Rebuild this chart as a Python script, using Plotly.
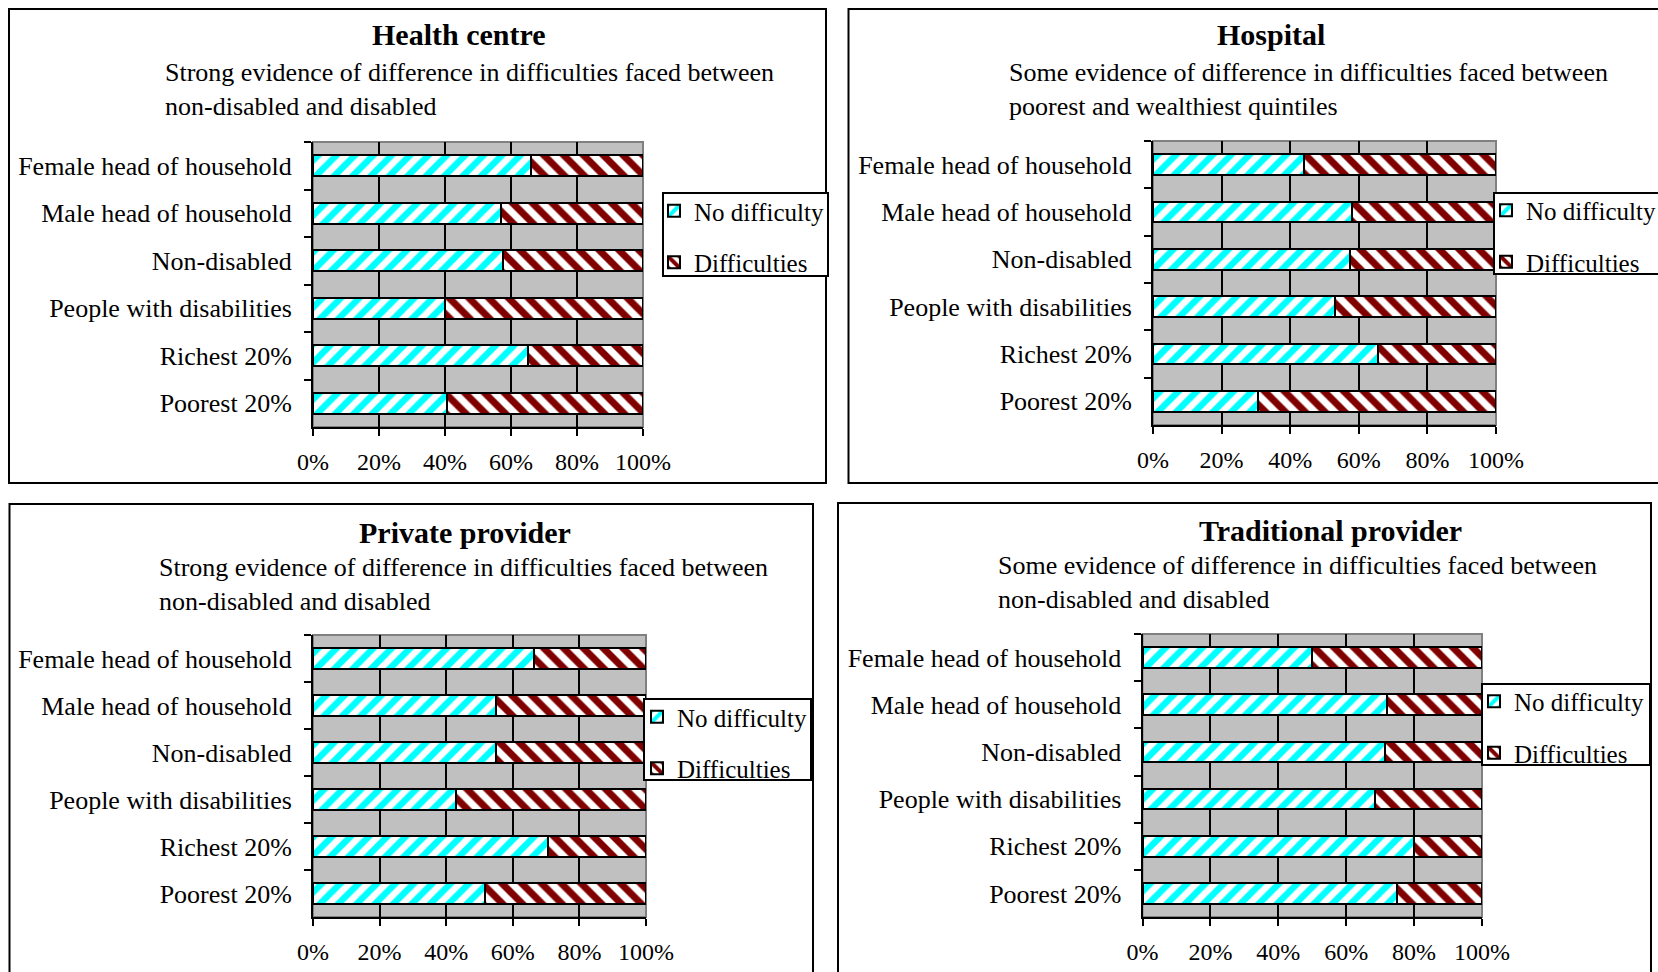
import plotly.graph_objects as go

W, H = 1658, 972
FONT = "Liberation Serif, Times New Roman, serif"

categories = ["Female head of household", "Male head of household", "Non-disabled",
              "People with disabilities", "Richest 20%", "Poorest 20%"]
x_tick_vals = [0, 20, 40, 60, 80, 100]
x_tick_text = ["0%", "20%", "40%", "60%", "80%", "100%"]
series_names = ["No difficulty", "Difficulties"]

health_no = [66, 57, 57.5, 40, 65, 40.5]
health_diff = [34, 43, 42.5, 60, 35, 59.5]
hospital_no = [44, 58, 57.5, 53, 65.5, 30.5]
hospital_diff = [56, 42, 42.5, 47, 34.5, 69.5]
private_no = [66.5, 55, 55, 43, 70.5, 51.5]
private_diff = [33.5, 45, 45, 57, 29.5, 48.5]
traditional_no = [50, 72, 71.5, 68.5, 80, 75]
traditional_diff = [50, 28, 28.5, 31.5, 20, 25]

titles = ["Health centre", "Hospital", "Private provider", "Traditional provider"]
subtitles = [
    "Strong evidence of difference in difficulties faced between<br>non-disabled and disabled",
    "Some evidence of difference in difficulties faced between<br>poorest and wealthiest quintiles",
    "Strong evidence of difference in difficulties faced between<br>non-disabled and disabled",
    "Some evidence of difference in difficulties faced between<br>non-disabled and disabled",
]
panel_data = [(health_no, health_diff), (hospital_no, hospital_diff),
              (private_no, private_diff), (traditional_no, traditional_diff)]

# layout in pixels
plot_boxes = [(313, 643, 142, 427), (1153, 1496, 141, 425),
              (313, 646, 635, 917), (1142.5, 1482, 634, 917)]
frames = [(9, 826, 9, 483), (848.5, 1670, 9, 483),
          (9.5, 813, 504, 990), (838, 1651, 503, 990)]
title_pos = [(459, 35), (1271, 34), (465, 532), (1330, 530)]
subtitle_pos = [(163, 90), (1007, 89), (157, 584), (996, 582)]
legend_pos = [(654, 188), (1486, 187.5), (637, 694), (1474, 678.5)]
legend_boxes = [(663, 828, 193, 276), (1494, 1670, 193, 274),
                (644, 811, 699, 780), (1482, 1650, 684, 765)]

CYAN = "#00FFFF"
RED = "#800000"

fig = go.Figure()
layout = dict(
    width=W, height=H, margin=dict(l=0, r=0, t=0, b=0, pad=0, autoexpand=False),
    paper_bgcolor="white", plot_bgcolor="#C0C0C0",
    barmode="stack", bargap=0.56,
    font=dict(family=FONT, color="black"),
    shapes=[], annotations=[],
)

def px(x):
    return x / W

def py(y):
    return 1 - y / H

for i in range(4):
    n = i + 1
    xs = "" if n == 1 else str(n)
    leg = "legend" if n == 1 else f"legend{n}"
    no_vals, diff_vals = panel_data[i]
    fig.add_trace(go.Bar(
        x=no_vals, y=categories, orientation="h", name=series_names[0],
        xaxis=f"x{xs}", yaxis=f"y{xs}", legend=leg, legendgroup=f"nd{n}",
        marker=dict(color=CYAN, line=dict(color="black", width=2),
                    pattern=dict(shape="/", fgcolor=CYAN, bgcolor="white", fgopacity=1,
                                 size=13, solidity=0.5)),
    ))
    fig.add_trace(go.Bar(
        x=diff_vals, y=categories, orientation="h", name=series_names[1],
        xaxis=f"x{xs}", yaxis=f"y{xs}", legend=leg, legendgroup=f"d{n}",
        marker=dict(color=RED, line=dict(color="black", width=2),
                    pattern=dict(shape="\\", fgcolor=RED, bgcolor="white", fgopacity=1,
                                 size=14, solidity=0.5)),
    ))
    x0, x1, y0, y1 = plot_boxes[i]
    layout[f"xaxis{xs}"] = dict(
        domain=[px(x0), px(x1)], anchor=f"y{xs}", range=[0, 100],
        tickmode="array", tickvals=x_tick_vals, ticktext=x_tick_text,
        showgrid=True, gridcolor="black", gridwidth=2, zeroline=False,
        showline=True, linecolor="black", linewidth=2,
        ticks="outside", ticklen=7, tickwidth=2, tickcolor="black",
        tickfont=dict(size=24, family=FONT, color="black"), ticklabelstandoff=5,
        fixedrange=True,
    )
    layout[f"yaxis{xs}"] = dict(
        domain=[py(y1), py(y0)], anchor=f"x{xs}", type="category",
        categoryorder="array", categoryarray=categories, autorange="reversed",
        showgrid=False, zeroline=False,
        showline=True, linecolor="black", linewidth=2,
        ticks="outside", tickson="boundaries", ticklen=7, tickwidth=2, tickcolor="black",
        tickfont=dict(size=26, family=FONT, color="black"), ticklabelstandoff=14,
        fixedrange=True,
    )
    lx, ly = legend_pos[i]
    layout[leg] = dict(
        x=px(lx), y=py(ly), xanchor="left", yanchor="top",
        bgcolor="rgba(0,0,0,0)", borderwidth=0,
        font=dict(size=25, family=FONT, color="black"),
        traceorder="grouped", tracegroupgap=16,
    )
    # plot area border (gray)
    layout["shapes"].append(dict(
        type="rect", xref=f"x{xs} domain", yref=f"y{xs} domain",
        x0=0, x1=1, y0=0, y1=1, line=dict(color="#808080", width=2), layer="below",
    ))
    # panel frame
    fx0, fx1, fy0, fy1 = frames[i]
    layout["shapes"].append(dict(
        type="rect", xref="paper", yref="paper",
        x0=px(fx0), x1=px(fx1), y0=py(fy1), y1=py(fy0),
        line=dict(color="black", width=2), fillcolor="rgba(0,0,0,0)", layer="below",
    ))
    # legend box
    bx0, bx1, by0, by1 = legend_boxes[i]
    layout["shapes"].append(dict(
        type="rect", xref="paper", yref="paper",
        x0=px(bx0), x1=px(bx1), y0=py(by1), y1=py(by0),
        line=dict(color="black", width=2), fillcolor="white", layer="above",
    ))
    tx, ty = title_pos[i]
    layout["annotations"].append(dict(
        text=f"<b>{titles[i]}</b>", x=px(tx), y=py(ty), xref="paper", yref="paper",
        xanchor="center", yanchor="middle", showarrow=False,
        font=dict(size=30, family=FONT, color="black"),
    ))
    sx, sy = subtitle_pos[i]
    layout["annotations"].append(dict(
        text=subtitles[i], x=px(sx), y=py(sy), xref="paper", yref="paper",
        xanchor="left", yanchor="middle", align="left", showarrow=False,
        font=dict(size=26, family=FONT, color="black"),
    ))

fig.update_layout(**layout)
fig.write_html("out.html")
